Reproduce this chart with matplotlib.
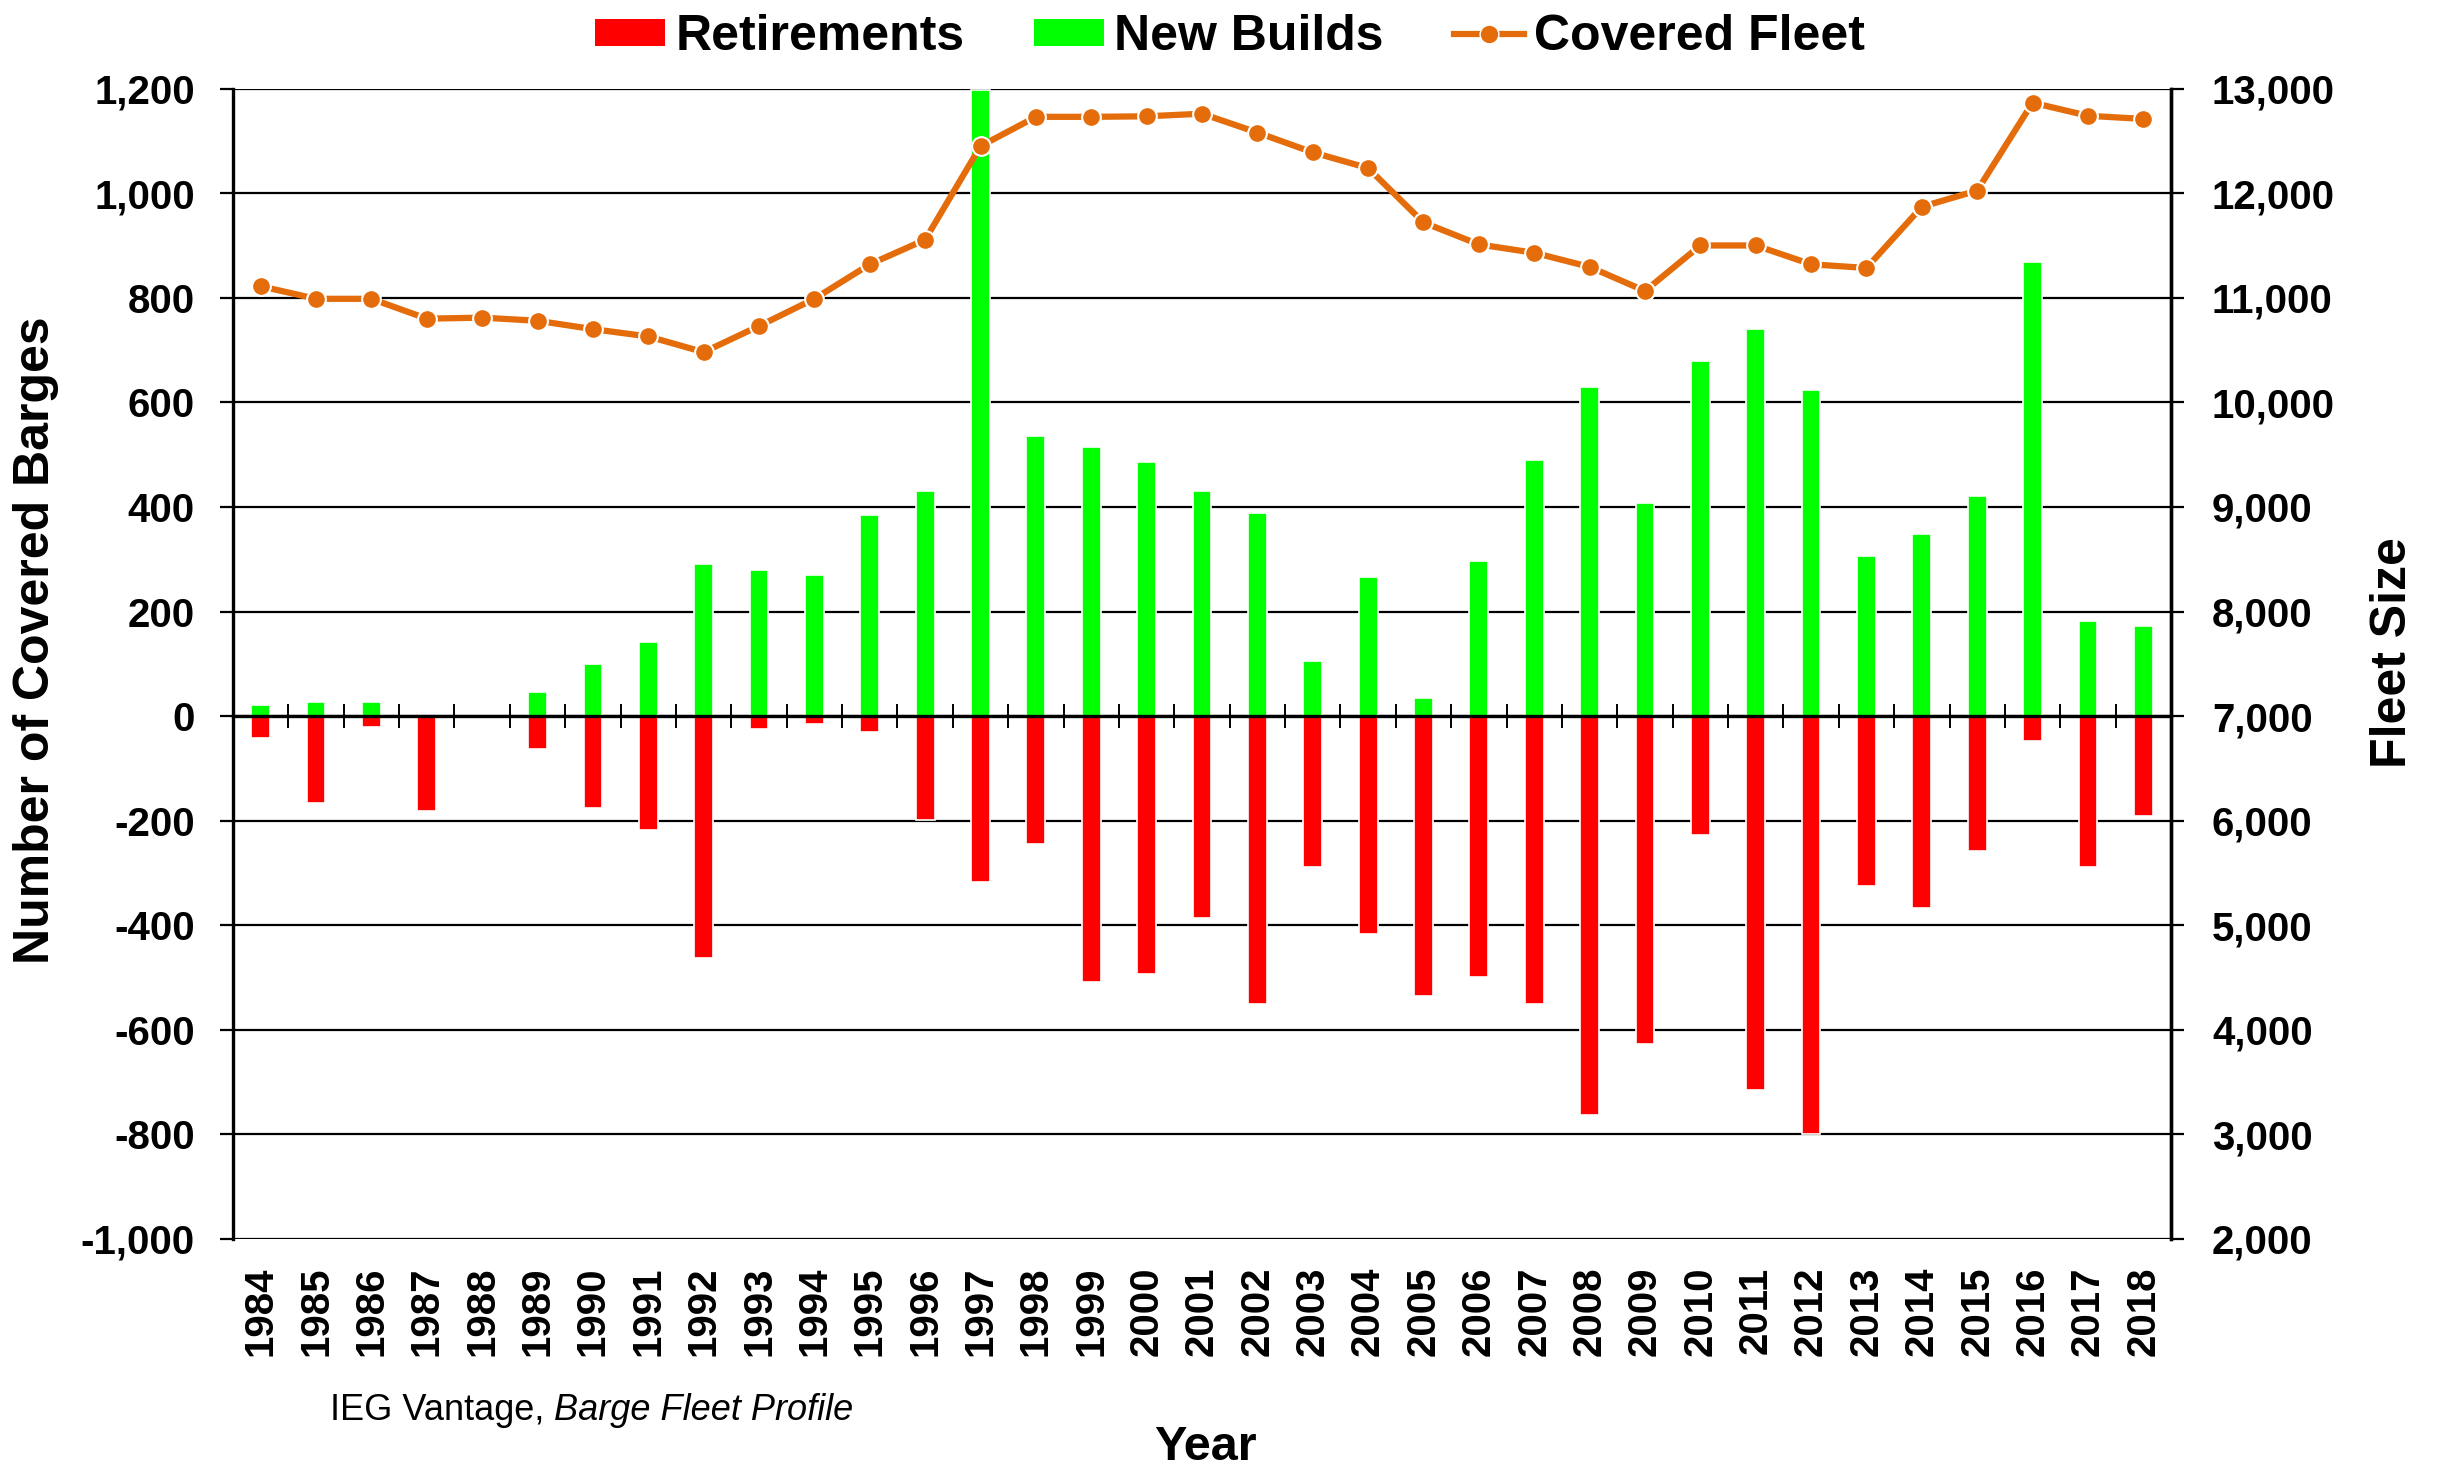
import numpy as np
import matplotlib
matplotlib.use('Agg')
import matplotlib.pyplot as plt
from matplotlib.ticker import FuncFormatter, FixedLocator
from matplotlib.patches import Patch
from matplotlib.lines import Line2D

plt.rcParams['font.family'] = ['Liberation Sans', 'DejaVu Sans']

# Datos
years = list(range(1984, 2019))
new_builds = [21, 27, 27, 0, 0, 47, 100, 141, 291, 280, 270, 385, 431, 1198,
              535, 515, 485, 431, 389, 106, 266, 34, 297, 490, 630, 407, 680,
              740, 624, 306, 348, 420, 868, 182, 172]
retirements = [-41, -166, -20, -182, 0, -62, -176, -218, -462, -25, -15, -31,
               -198, -318, -244, -509, -494, -387, -551, -289, -417, -535, -499,
               -551, -762, -628, -228, -715, -800, -325, -367, -258, -48, -289,
               -192]
fleet = [11110, 10990, 10990, 10800, 10810, 10780, 10700, 10630, 10480, 10730,
         10990, 11320, 11555, 12450, 12730, 12730, 12735, 12760, 12580, 12390,
         12240, 11720, 11510, 11430, 11295, 11065, 11500, 11500, 11320, 11285,
         11870, 12025, 12865, 12740, 12710]

left_ticks = list(range(-1000, 1201, 200))
right_ticks = list(range(2000, 13001, 1000))

GREEN = '#00FF00'
RED = '#FF0000'
ORANGE = '#E46C0A'

W, H = 2437, 1483
fig = plt.figure(figsize=(W / 100, H / 100), dpi=100)
ax_l, ax_r, ax_t, ax_b = 233, 2171, 88.6, 1239
fig.subplots_adjust(left=ax_l / W, right=ax_r / W, top=1 - ax_t / H, bottom=1 - ax_b / H)
ax = fig.add_subplot(111)

x = np.arange(len(years))
bw = 0.34

# Barras (sin borde cuando el valor es cero)
ax.bar(x, new_builds, width=bw, color=GREEN, linewidth=1.2, zorder=3,
       edgecolor=['white' if v else 'none' for v in new_builds])
ax.bar(x, retirements, width=bw, color=RED, linewidth=1.2, zorder=3,
       edgecolor=['white' if v else 'none' for v in retirements])

ax.set_xlim(-0.5, len(years) - 0.5)
ax.set_ylim(-1000, 1200)
ax.set_yticks(left_ticks)
ax.yaxis.set_major_formatter(FuncFormatter(lambda v, p: f'{int(v):,}'))
ax.grid(axis='y', color='black', linewidth=1.6)
ax.set_axisbelow(True)

for s in ['top', 'bottom']:
    ax.spines[s].set_visible(False)
ax.spines['left'].set_linewidth(2.4)
ax.spines['right'].set_linewidth(2.4)

ax.set_xticks(x)
ax.set_xticklabels([str(y) for y in years], rotation=90, fontsize=29, fontweight='bold')
ax.tick_params(axis='x', length=0, pad=20)
ax.tick_params(axis='y', length=9.5, width=1.6, pad=18, labelsize=29)
for lbl in ax.get_yticklabels():
    lbl.set_fontweight('bold')

# Línea del cero con marcas entre categorías
sec = ax.secondary_xaxis(1000 / 2200)
sec.xaxis.set_major_locator(FixedLocator(np.arange(0.5, len(years) - 1, 1)))
sec.tick_params(direction='inout', length=17, width=1.4, labelbottom=False)
sec.spines['bottom'].set_linewidth(2.4)
sec.set_zorder(5)

# Eje derecho: flota
ax2 = ax.twinx()
ax2.plot(x, fleet, color=ORANGE, linewidth=4.5, marker='o', markersize=13.5,
         markerfacecolor=ORANGE, markeredgecolor='white', markeredgewidth=1.5,
         zorder=4, clip_on=False)
ax2.set_ylim(2000, 13000)
ax2.set_yticks(right_ticks)
ax2.yaxis.set_major_formatter(FuncFormatter(lambda v, p: f'{int(v):,}'))
ax2.tick_params(axis='y', length=9.5, width=1.6, pad=20, labelsize=29)
for lbl in ax2.get_yticklabels():
    lbl.set_fontweight('bold')
for s in ['top', 'bottom', 'left']:
    ax2.spines[s].set_visible(False)
ax2.spines['right'].set_linewidth(2.4)

# Etiquetas de ejes
ax.set_ylabel('Number of Covered Barges', fontsize=36, fontweight='bold', va='center')
ax.yaxis.set_label_coords((36 - ax_l) / (ax_r - ax_l), 1 - (640 - ax_t) / (ax_b - ax_t))
ax2.set_ylabel('Fleet Size', fontsize=36, fontweight='bold', va='center')
ax2.yaxis.set_label_coords((2393 - ax_l) / (ax_r - ax_l), 1 - (653 - ax_t) / (ax_b - ax_t))
ax.set_xlabel('Year', fontsize=35, fontweight='bold', va='center')
ax.xaxis.set_label_coords((1205 - ax_l) / (ax_r - ax_l), -(1448 - ax_b) / (ax_b - ax_t))

# Fuente
t1 = fig.text(330 / W, 1 - 1411 / H, 'IEG Vantage, ', fontsize=26, va='center')
ax.annotate('Barge Fleet Profile', xy=(1, 0), xycoords=t1, fontsize=26,
            style='italic', va='bottom', ha='left', annotation_clip=False)

# Leyenda
handles = [Patch(facecolor=RED, edgecolor='none', label='Retirements'),
           Patch(facecolor=GREEN, edgecolor='none', label='New Builds'),
           Line2D([], [], color=ORANGE, linewidth=4.5, marker='o', markersize=13.5,
                  markerfacecolor=ORANGE, markeredgecolor='white', label='Covered Fleet')]
fig.legend(handles=handles, loc='center', bbox_to_anchor=(1230 / W, 1 - 37 / H),
           ncol=3, frameon=False, prop={'size': 36, 'weight': 'bold'},
           handlelength=1.4, handleheight=0.45, handletextpad=0.2, columnspacing=1.4)

fig.savefig('out.png', dpi=100)
